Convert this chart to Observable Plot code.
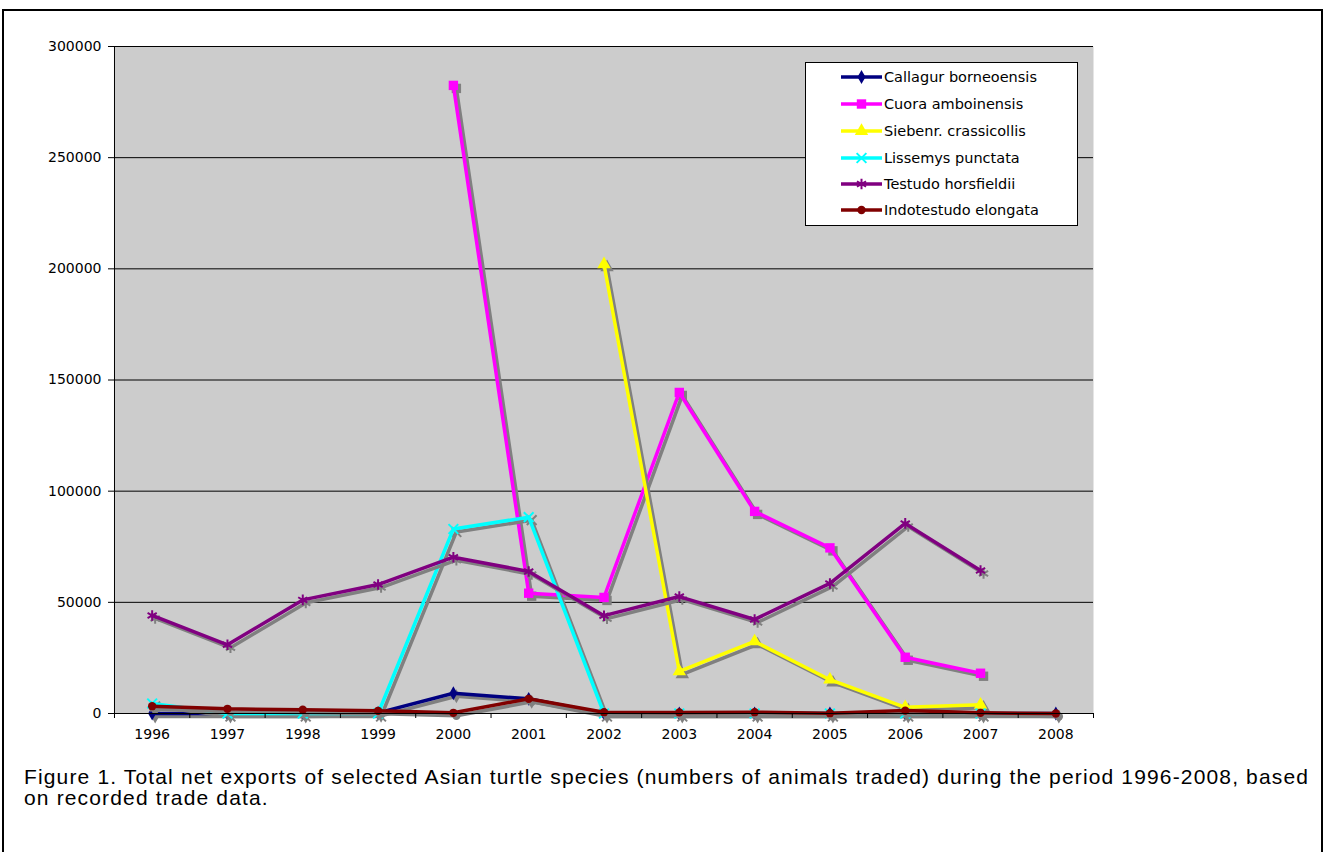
<!DOCTYPE html>
<html><head><meta charset="utf-8">
<script src="https://cdn.jsdelivr.net/npm/d3@7"></script>
<script src="https://cdn.jsdelivr.net/npm/@observablehq/plot@0.6"></script>
<style>
html,body{margin:0;padding:0;background:#fff;}
body{width:1324px;height:852px;overflow:hidden;position:relative;font-family:"DejaVu Sans",Verdana,sans-serif;}
#frame{position:absolute;left:2px;top:9px;width:1321px;height:900px;border:2px solid #000;box-sizing:border-box;}
#chart{position:absolute;left:0;top:0;}
#legend{position:absolute;left:805px;top:62px;width:273px;height:164px;box-sizing:border-box;border:1px solid #000;background:#fff;}
#caption{position:absolute;left:24px;top:766px;font-family:"Liberation Sans",Arial,sans-serif;font-size:21px;letter-spacing:1.15px;line-height:21px;white-space:nowrap;color:#000;}
</style></head><body>
<div id="frame"></div>
<div id="chart"></div>
<div id="legend"></div>
<div id="caption">Figure 1. Total net exports of selected Asian turtle species (numbers of animals traded) during the period 1996-2008, based<br>on recorded trade data.</div>
<script>
// ---- data ----
const years = ["1996","1997","1998","1999","2000","2001","2002","2003","2004","2005","2006","2007","2008"];
const seriesNames = ["Callagur borneoensis","Cuora amboinensis","Siebenr. crassicollis","Lissemys punctata","Testudo horsfieldii","Indotestudo elongata"];
const callagur = [0, 0, 0, 300, 9100, 6600, 0, 0, 0, 0, 0, 0, 0];
const cuora    = [null, null, null, null, 282500, 54100, 52200, 144400, 90900, 74500, 25300, 18100, null];
const siebenr  = [null, null, null, null, null, null, 202000, 18900, 32400, 15200, 2800, 3900, null];
const lissemys = [4500, 0, 0, 0, 83000, 88300, 0, 0, 0, 0, 0, 0, null];
const testudo  = [44100, 30900, 51100, 58000, 70300, 63900, 44000, 52600, 42300, 58500, 85500, 64300, null];
const indo     = [3300, 2100, 1700, 1200, 300, 6600, 600, 500, 600, 150, 1300, 300, 0];
const yTicks = [0, 50000, 100000, 150000, 200000, 250000, 300000];

const seriesValues = [callagur, cuora, siebenr, lissemys, testudo, indo];
const colors = ["#000080", "#ff00ff", "#ffff00", "#00ffff", "#800080", "#800000"];
const symbols = ["diamond", "square", "triangle", "times", "asterisk", "circle"];
const symFilled = [true, true, true, false, false, true];
const symR = [4.2, 5.3, 5, 4.5, 5, 4.2];

const W = 1324, H = 745;
const pLeft = 114, pRight = 1093, pTop = 46, pBottom = 713;
const step = (pRight - pLeft) / years.length;

const marks = [Plot.frame({fill: "#cccccc", stroke: "none"})];
marks.push(Plot.gridY(yTicks, {stroke: "#000", strokeOpacity: 1, strokeWidth: 1}));

seriesValues.forEach((vals, i) => {
  const rows = years.map((yr, j) => ({year: yr, value: vals[j]}));
  const pts = rows.filter(d => d.value != null);
  // shadow
  marks.push(Plot.line(rows, {x: "year", y: "value", stroke: "#808080", strokeWidth: 3.5, dx: 3, dy: 3}));
  marks.push(Plot.dot(pts, {x: "year", y: "value", symbol: symbols[i], r: symR[i], dx: 3, dy: 3,
    fill: symFilled[i] ? "#808080" : "none", stroke: symFilled[i] ? "none" : "#808080", strokeWidth: 2}));
  // series
  marks.push(Plot.line(rows, {x: "year", y: "value", stroke: colors[i], strokeWidth: 3.5}));
  marks.push(Plot.dot(pts, {x: "year", y: "value", symbol: symbols[i], r: symR[i],
    fill: symFilled[i] ? colors[i] : "none", stroke: symFilled[i] ? "none" : colors[i], strokeWidth: 2}));
});

// axes
marks.push(Plot.ruleX([years[0]], {dx: -step / 2, stroke: "#000", strokeWidth: 1}));
marks.push(Plot.ruleY([0], {stroke: "#000", strokeWidth: 1}));
marks.push(Plot.axisY({ticks: yTicks, tickSize: 6, tickPadding: 7, tickFormat: d3.format("d"), fontSize: 14, label: null, stroke: "#000"}));
marks.push(Plot.axisX({tickSize: 5, tickFormat: () => "", dx: -step / 2, label: null, stroke: "#000"}));
marks.push(Plot.axisX({ticks: [years[years.length - 1]], tickSize: 5, tickFormat: () => "", dx: step / 2, label: null, stroke: "#000"}));
marks.push(Plot.axisX({tickSize: 0, tickPadding: 16, fontSize: 14, label: null}));

const chart = Plot.plot({
  width: W, height: H,
  marginLeft: pLeft, marginRight: W - pRight, marginTop: pTop, marginBottom: H - pBottom,
  x: {type: "point", domain: years, padding: 0.5, round: false},
  y: {domain: [0, 300000]},
  style: {fontFamily: "'DejaVu Sans', Verdana, sans-serif", fontSize: "14px", color: "#000", background: "transparent", overflow: "visible"},
  marks
});
document.getElementById("chart").appendChild(chart);

// legend
const lg = d3.select("#legend").append("svg").attr("width", 271).attr("height", 162)
  .style("position", "absolute").style("left", "0px").style("top", "0px");
const rowY = [14, 41, 68, 95, 121, 147];
const symMap = {diamond: d3.symbolDiamond, square: d3.symbolSquare, triangle: d3.symbolTriangle,
  times: d3.symbolTimes, asterisk: d3.symbolAsterisk, circle: d3.symbolCircle};
seriesNames.forEach((name, i) => {
  const g = lg.append("g").attr("transform", `translate(0,${rowY[i]})`);
  g.append("line").attr("x1", 35).attr("x2", 76).attr("y1", 0).attr("y2", 0)
    .attr("stroke", colors[i]).attr("stroke-width", 3.5);
  const r = symR[i];
  g.append("path").attr("transform", "translate(55.5,0)")
    .attr("d", d3.symbol(symMap[symbols[i]], Math.PI * r * r)())
    .attr("fill", symFilled[i] ? colors[i] : "none")
    .attr("stroke", symFilled[i] ? "none" : colors[i]).attr("stroke-width", 2);
  g.append("text").attr("x", 78).attr("y", 0).attr("dy", "0.35em")
    .attr("font-family", "'DejaVu Sans', Verdana, sans-serif").attr("font-size", 14.5)
    .attr("fill", "#000").text(name);
});
</script>
</body></html>
